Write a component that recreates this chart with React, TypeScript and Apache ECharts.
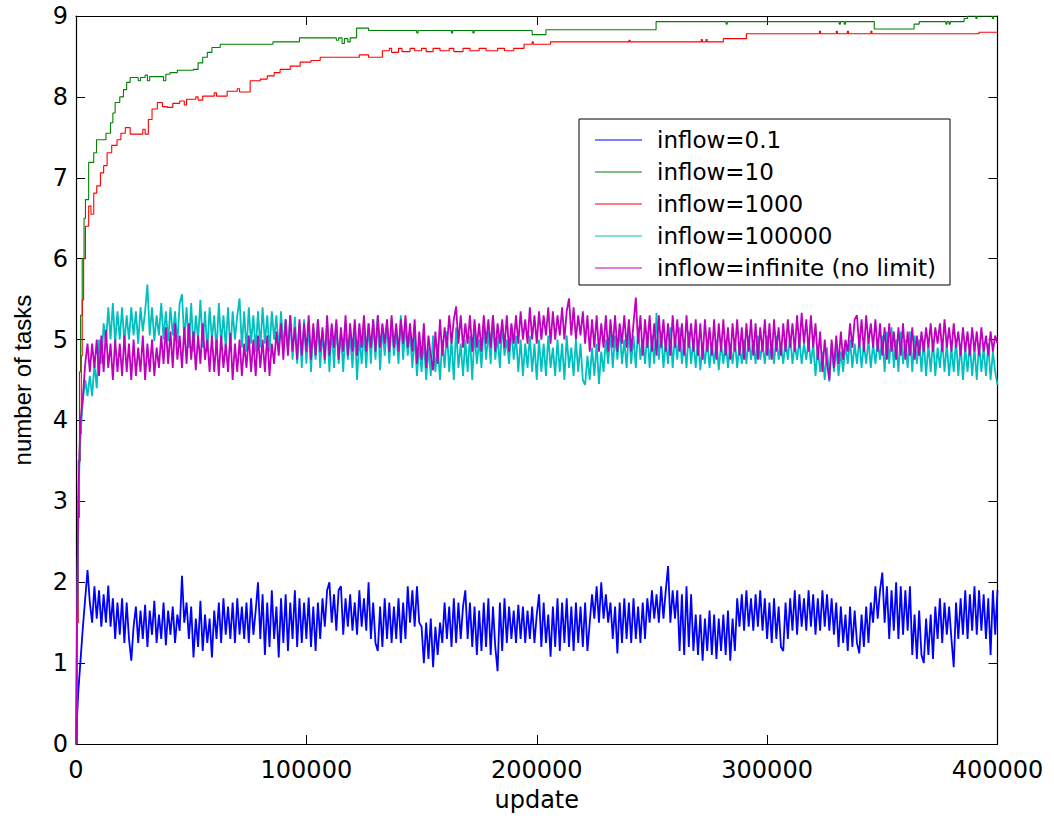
import React, { useEffect, useRef } from "react";
import * as echarts from "echarts";

// ---------- data ----------
const seriesNames = [
  "inflow=0.1",
  "inflow=10",
  "inflow=1000",
  "inflow=100000",
  "inflow=infinite (no limit)",
];
const seriesColors = ["#0000ff", "#008000", "#ff0000", "#00bfbf", "#bf00bf"];

const xTicks = [0, 100000, 200000, 300000, 400000];
const yTicks = [0, 1, 2, 3, 4, 5, 6, 7, 8, 9];

// sampling grid of the noisy runs (update number)
const earlyUpdates = [0, 500, 1000, 1500, 2000, 3000, 4000, 5000];
const laterUpdates = Array.from({ length: 395 }, (_, i) => 6000 + i * 1000);
const updates = [...earlyUpdates, ...laterUpdates];

const blueValues = [
  0, 0.35, 0.65, 0.85, 1.05, 1.45, 1.8, 2.15,
  1.75, 1.5, 1.95, 1.55,
  1.9, 1.45, 1.85, 1.5, 1.96, 1.45, 1.8, 1.3, 1.75, 1.35,
  1.8, 1.25, 1.75, 1.3, 1.03, 1.45, 1.7, 1.25, 1.65, 1.3,
  1.72, 1.2, 1.65, 1.35, 1.77, 1.25, 1.6, 1.3, 1.75, 1.22,
  1.65, 1.35, 1.7, 1.25, 1.6, 1.4, 2.08, 1.5, 1.75, 1.3,
  1.7, 1.07, 1.55, 1.2, 1.77, 1.15, 1.6, 1.25, 1.55, 1.07,
  1.65, 1.3, 1.75, 1.25, 1.8, 1.35, 1.7, 1.3, 1.75, 1.25,
  1.8, 1.35, 1.7, 1.3, 1.75, 1.25, 1.8, 1.35, 1.65, 2.0,
  1.3, 1.85, 1.1, 1.75, 1.2, 1.9, 1.3, 1.7, 1.07, 1.8,
  1.25, 1.85, 1.15, 1.75, 1.3, 1.9, 1.2, 1.8, 1.25, 1.75,
  1.3, 1.81, 1.2, 1.7, 1.15, 1.75, 1.3, 1.8, 1.45, 1.9,
  2.0, 1.5, 1.85, 1.4, 1.9, 1.95, 1.35, 1.8, 1.45, 1.85,
  1.4, 1.75, 1.35, 1.9, 1.45, 1.8, 1.4, 2.0, 1.3, 1.75,
  1.25, 1.15, 1.7, 1.2, 1.8, 1.3, 1.75, 1.25, 1.7, 1.3,
  1.8, 1.25, 1.75, 1.3, 1.95, 1.5, 1.9, 1.45, 1.95, 1.5,
  1.45, 1.0, 1.5, 1.05, 1.55, 0.95, 1.45, 1.1, 1.5, 1.25,
  1.75, 1.3, 1.7, 1.2, 1.8, 1.25, 1.75, 1.3, 1.7, 1.9,
  1.3, 1.75, 1.2, 1.7, 1.1, 1.65, 1.15, 1.75, 1.2, 1.8,
  1.1, 1.7, 1.2, 0.9, 1.75, 1.15, 1.8, 1.25, 1.7, 1.3,
  1.65, 1.25, 1.72, 1.3, 1.7, 1.25, 1.65, 1.3, 1.7, 1.25,
  1.6, 1.85, 1.2, 1.75, 1.25, 1.6, 1.08, 1.7, 1.2, 1.8,
  1.15, 1.75, 1.25, 1.8, 1.2, 1.7, 1.15, 1.75, 1.25, 1.7,
  1.2, 1.75, 1.15, 1.5, 1.85, 1.55, 1.95, 1.5, 2.0, 1.55,
  1.85, 1.5, 1.75, 1.3, 1.7, 1.12, 1.75, 1.25, 1.8, 1.3,
  1.75, 1.25, 1.8, 1.3, 1.7, 1.25, 1.75, 1.3, 1.8, 1.5,
  1.9, 1.55, 1.85, 1.5, 1.95, 1.55, 1.9, 2.2, 1.5, 1.9,
  1.55, 1.9, 1.15, 1.85, 1.1, 1.95, 1.2, 1.85, 1.15, 1.6,
  1.1, 1.6, 1.03, 1.55, 1.15, 1.65, 1.1, 1.6, 1.05, 1.55,
  1.15, 1.6, 1.1, 1.65, 1.03, 1.55, 1.15, 1.8, 1.45, 1.85,
  1.4, 1.9, 1.45, 1.8, 1.4, 1.85, 1.45, 1.9, 1.4, 1.8,
  1.3, 1.75, 1.25, 1.8, 1.3, 1.7, 1.2, 1.15, 1.75, 1.3,
  1.8, 1.4, 1.9, 1.35, 1.85, 1.45, 1.8, 1.4, 1.9, 1.45,
  1.85, 1.35, 1.8, 1.4, 1.9, 1.45, 1.85, 1.4, 1.8, 1.35,
  1.75, 1.2, 1.7, 1.25, 1.6, 1.15, 1.7, 1.2, 1.65, 1.25,
  1.12, 1.6, 1.2, 1.7, 1.25, 1.75, 1.5, 1.95, 1.55, 1.9,
  2.12, 1.5, 1.95, 1.3, 1.9, 1.4, 2.0, 1.3, 1.95, 1.35,
  1.9, 1.4, 1.95, 1.1, 1.6, 1.05, 1.65, 1.1, 1.0, 1.55,
  1.1, 1.6, 1.05, 1.7, 1.3, 1.8, 1.25, 1.75, 1.35, 1.7,
  1.3, 0.95, 1.75, 1.3, 1.8, 1.35, 1.9, 1.3, 1.85, 1.4,
  1.95, 1.35, 1.9, 1.4, 1.85, 1.3, 1.8, 1.1, 1.9, 1.35,
  1.9,
];

const cyanValues = [
  0, 1.5, 2.8, 3.5, 3.85, 4.25, 4.5, 4.3,
  4.55, 4.3, 4.7, 4.4,
  5.0, 4.7, 5.2, 4.95, 5.4, 5.0, 5.45, 4.95, 5.35, 5.0,
  5.4, 4.95, 5.3, 5.0, 5.4, 5.05, 5.35, 4.95, 5.4, 5.1,
  5.35, 5.68, 5.05, 5.4, 4.98, 5.3, 5.05, 5.45, 5.0, 5.35,
  4.98, 5.4, 5.05, 5.35, 4.95, 5.45, 5.56, 5.0, 5.4, 4.9,
  5.45, 4.85, 5.3, 5.0, 5.49, 4.9, 5.35, 4.85, 5.4, 5.0,
  5.3, 4.85, 5.45, 4.95, 5.3, 4.9, 5.4, 4.85, 5.35, 5.0,
  5.3, 5.51, 4.9, 5.35, 4.85, 5.4, 4.95, 5.3, 4.85, 5.35,
  4.9, 5.4, 4.95, 5.3, 4.85, 5.35, 5.0, 5.3, 4.85, 5.35,
  4.9, 5.25, 4.85, 5.3, 4.75, 5.28, 4.7, 5.2, 4.65, 5.25,
  4.7, 5.2, 4.6, 5.15, 4.75, 5.25, 4.65, 5.1, 4.7, 5.2,
  4.6, 5.15, 4.65, 5.2, 4.7, 5.1, 4.6, 5.2, 4.75, 5.05,
  4.65, 5.15, 4.5, 5.05, 4.7, 5.1, 4.65, 5.2, 4.7, 5.25,
  4.75, 5.3, 4.62, 5.15, 4.8, 5.2, 4.7, 5.25, 4.8, 5.1,
  4.7, 5.3, 4.75, 5.2, 4.8, 5.1, 4.65, 5.05, 4.55, 4.95,
  4.6, 5.0, 4.5, 4.9, 4.55, 5.05, 4.6, 4.95, 4.5, 5.0,
  4.65, 5.1, 4.6, 5.0, 4.5, 5.15, 4.65, 4.95, 4.55, 5.0,
  4.6, 5.05, 4.5, 5.1, 4.7, 5.0, 4.65, 5.2, 4.75, 5.1,
  4.7, 5.3, 4.75, 5.05, 4.65, 5.2, 4.8, 5.0, 4.7, 5.15,
  4.75, 5.05, 4.6, 5.0, 4.55, 4.95, 4.65, 5.05, 4.6, 4.95,
  4.5, 5.0, 4.6, 4.95, 4.55, 5.05, 4.65, 4.9, 4.55, 5.0,
  4.6, 4.95, 4.5, 5.05, 4.65, 4.9, 4.55, 5.0, 4.6, 4.95,
  4.5, 4.44, 4.8, 4.5, 4.9, 4.55, 4.95, 4.45, 4.85, 4.6,
  5.0, 4.7, 5.1, 4.65, 5.05, 4.75, 5.15, 4.7, 5.0, 4.65,
  5.1, 4.7, 5.05, 4.65, 5.15, 4.75, 5.0, 4.7, 5.1, 4.65,
  5.05, 4.7, 5.33, 4.75, 5.1, 4.65, 5.0, 4.7, 5.15, 4.65,
  5.05, 4.75, 5.15, 4.7, 5.0, 4.65, 5.1, 4.7, 5.0, 4.65,
  5.0, 4.62, 4.95, 4.7, 5.0, 4.65, 4.95, 4.7, 5.0, 4.62,
  4.95, 4.7, 5.0, 4.65, 4.95, 4.7, 5.0, 4.65, 4.95, 4.7,
  5.0, 4.7, 5.05, 4.75, 5.0, 4.7, 5.05, 4.75, 4.95, 4.7,
  5.05, 4.75, 5.0, 4.7, 5.05, 4.75, 4.95, 4.7, 5.0, 4.75,
  5.05, 4.7, 4.95, 4.75, 5.0, 4.7, 4.95, 4.75, 5.0, 4.7,
  4.95, 4.55, 4.9, 4.6, 4.85, 4.5, 4.9, 4.48, 4.95, 4.6,
  4.9, 4.55, 4.85, 4.6, 4.95, 4.7, 5.0, 4.65, 4.95, 4.7,
  5.0, 4.65, 4.95, 4.7, 5.0, 4.65, 4.95, 4.7, 5.0, 4.75,
  5.05, 4.6, 5.1, 4.7, 5.15, 4.65, 5.0, 4.6, 5.1, 4.7,
  5.0, 4.65, 5.1, 4.6, 5.05, 4.7, 5.0, 4.6, 5.0, 4.55,
  4.95, 4.6, 5.0, 4.55, 4.9, 4.65, 5.0, 4.6, 4.95, 4.55,
  4.9, 4.6, 5.0, 4.55, 4.95, 4.5, 4.9, 4.6, 4.95, 4.55,
  4.9, 4.5, 4.95, 4.6, 4.9, 4.55, 4.95, 4.5, 4.85, 4.6,
  4.44,
];

const magentaValues = [
  0, 1.8, 3.0, 3.6, 4.0, 4.3, 4.7, 4.95,
  4.6, 4.95, 4.65, 5.0,
  4.55, 5.05, 4.6, 5.12, 4.65, 4.95, 4.5, 5.0, 4.6, 4.95,
  4.55, 5.05, 4.6, 4.95, 4.5, 5.0, 4.55, 4.9, 4.6, 5.05,
  4.5, 4.95, 4.6, 5.0, 4.55, 4.9, 4.65, 5.05, 4.7, 5.15,
  4.7, 5.1, 4.65, 5.2, 4.75, 5.05, 4.65, 5.15, 4.7, 5.2,
  4.75, 5.1, 4.62, 5.05, 4.7, 5.2, 4.75, 5.0, 4.6, 5.05,
  4.6, 5.0, 4.55, 5.05, 4.65, 4.95, 4.6, 5.08, 4.5, 4.95,
  4.6, 5.0, 4.55, 4.95, 4.65, 5.05, 4.6, 5.0, 4.55, 5.05,
  4.65, 5.0, 4.6, 5.05, 4.55, 4.95, 4.7, 5.1, 4.8, 5.2,
  4.75, 5.25, 4.8, 5.3, 4.85, 5.15, 4.75, 5.25, 4.8, 5.2,
  4.85, 5.3, 4.75, 5.2, 4.8, 5.25, 4.85, 5.15, 4.75, 5.3,
  4.8, 5.2, 4.9, 5.25, 4.75, 5.15, 4.85, 5.3, 4.8, 5.2,
  4.85, 5.25, 4.8, 5.2, 4.9, 5.3, 4.85, 5.2, 4.9, 5.25,
  4.85, 5.3, 4.9, 5.2, 4.95, 5.25, 4.85, 5.3, 4.9, 5.2,
  4.85, 5.25, 4.95, 5.3, 4.9, 5.2, 4.85, 5.25, 4.7, 5.1,
  4.75, 5.2, 4.65, 5.05, 4.8, 4.62, 5.1, 4.7, 5.25, 4.8,
  5.15, 4.9, 5.3, 4.95, 5.25, 5.41, 4.95, 5.3, 4.9, 5.2,
  4.95, 5.3, 4.85, 5.25, 4.9, 5.2, 4.85, 5.3, 4.95, 5.25,
  4.9, 5.3, 4.85, 5.2, 4.95, 5.25, 4.9, 5.3, 4.85, 5.2,
  4.95, 5.3, 4.95, 5.35, 5.0, 5.25, 4.95, 5.4, 5.0, 5.3,
  4.95, 5.35, 5.0, 5.3, 5.05, 5.4, 4.95, 5.35, 5.0, 5.3,
  5.05, 5.4, 5.0, 5.35, 5.51, 5.05, 5.4, 5.0, 5.3, 5.05,
  5.35, 4.95, 5.3, 4.85, 5.25, 4.9, 5.3, 4.85, 5.2, 4.9,
  5.3, 4.85, 5.25, 4.9, 5.3, 4.85, 5.2, 4.95, 5.3, 4.9,
  5.25, 4.85, 5.2, 5.52, 4.95, 5.3, 4.8, 5.25, 4.9, 5.3,
  4.85, 5.2, 4.8, 5.3, 4.9, 5.25, 4.85, 5.2, 4.8, 5.3,
  4.9, 5.25, 4.85, 5.2, 4.8, 5.3, 4.9, 5.2, 4.85, 5.25,
  4.8, 5.2, 4.75, 5.25, 4.85, 5.15, 4.8, 5.25, 4.75, 5.2,
  4.85, 5.25, 4.8, 5.15, 4.75, 5.2, 4.85, 5.25, 4.8, 5.15,
  4.75, 5.2, 4.85, 5.25, 4.8, 5.2, 4.75, 5.15, 4.85, 5.25,
  4.8, 5.2, 4.75, 5.25, 4.85, 5.15, 4.8, 5.2, 4.85, 5.25,
  4.9, 5.2, 4.85, 5.3, 4.9, 5.33, 4.95, 5.25, 4.85, 5.3,
  4.9, 5.2, 4.75, 5.1, 4.6, 5.0, 4.7, 4.5, 5.0, 4.65,
  5.05, 4.7, 5.1, 4.75, 5.0, 4.85, 5.2, 4.9, 5.25, 5.3,
  4.9, 5.25, 4.85, 5.3, 4.95, 5.2, 4.9, 5.25, 4.85, 5.2,
  4.8, 5.15, 4.75, 5.2, 4.85, 5.1, 4.75, 5.15, 4.8, 5.2,
  4.75, 5.1, 4.8, 5.15, 4.75, 5.05, 4.8, 5.1, 4.85, 5.15,
  4.9, 5.2, 4.85, 5.15, 4.95, 5.2, 4.85, 5.25, 4.9, 5.15,
  4.85, 5.2, 4.9, 5.1, 4.8, 5.15, 4.85, 5.1, 4.8, 5.15,
  4.85, 5.1, 4.8, 5.15, 4.85, 5.05, 4.8, 5.1, 4.85, 5.05,
  4.95,
];

// step-like runs
const greenUpdates = [
  0, 500, 1000, 1500, 2000, 2700, 3500, 4100, 5500, 7700, 8900, 13000, 15000,
  16000, 17000, 19000, 20600, 22000, 23500, 27000, 28000, 30000, 31000, 32000,
  38000, 39000, 40800, 44000, 51000, 53000, 55000, 57000, 59000, 62600, 85500,
  97000, 113000, 114000, 115500, 116500, 118000, 119000, 121800, 127000,
  147900, 148500, 163000, 163500, 172300, 172800, 198000, 204000, 251800,
  282200, 282700, 331300, 331800, 333500, 334000, 346500, 363800, 366000,
  377600, 378100, 379000, 379500, 385500, 387000, 390600, 391100, 397800,
  398300, 400000,
];
const greenValues = [
  0, 2.0, 3.5, 4.6, 5.3, 6.0, 6.5, 6.73, 7.19, 7.31, 7.47, 7.55, 7.68,
  7.8, 7.93, 8.0, 8.09, 8.18, 8.24, 8.2, 8.24, 8.27, 8.2, 8.25,
  8.2, 8.28, 8.3, 8.33, 8.34, 8.42, 8.49, 8.55, 8.61, 8.65, 8.68,
  8.73, 8.7, 8.73, 8.66, 8.72, 8.68, 8.73, 8.85, 8.82,
  8.79, 8.82, 8.79, 8.82, 8.79, 8.82, 8.77, 8.83, 8.93,
  8.9, 8.93, 8.9, 8.93, 8.9, 8.93, 8.84, 8.9, 8.93,
  8.9, 8.93, 8.9, 8.93, 8.97, 9.0, 8.97, 9.0, 8.97,
  9.0, 9.0,
];

const redUpdates = [
  0, 500, 1000, 1500, 1900, 2300, 2700, 3300, 4100, 5500, 6500, 7700, 9000,
  10600, 12000, 13500, 15500, 17800, 19500, 21400, 23500, 29000, 30000, 31400,
  33000, 35300, 37500, 39600, 42000, 45000, 47000, 48000, 52000, 53000, 55000,
  60000, 61000, 65600, 70000, 71000, 75600, 80000, 83000, 86000, 88600, 93000,
  97300, 102000, 106000, 123000, 127000, 133000, 136000, 137000, 140000,
  141500, 145000, 147000, 150000, 152000, 155000, 158000, 162000, 164000,
  168000, 171000, 175000, 178000, 183000, 186000, 190000, 194500, 198000,
  198500, 206000, 240000, 240500, 271400, 271900, 273500, 274000, 281000,
  291000, 322700, 323200, 330000, 330500, 334800, 335300, 345000, 345500,
  392000, 400000,
];
const redValues = [
  0, 1.5, 2.8, 3.5, 3.84, 4.8, 5.49, 6.0, 6.4, 6.65, 6.55, 6.81, 6.9,
  7.06, 7.15, 7.31, 7.4, 7.47, 7.55, 7.62, 7.54, 7.6, 7.54, 7.72,
  7.85, 7.93, 7.88, 7.87, 7.92, 7.95, 7.9, 7.97, 8.0, 7.96, 8.01,
  8.05, 8.01, 8.07, 8.1, 8.06, 8.2, 8.22, 8.26, 8.3, 8.34, 8.38,
  8.43, 8.45, 8.49, 8.52, 8.49, 8.57, 8.6, 8.55, 8.6,
  8.56, 8.6, 8.57, 8.6, 8.56, 8.6, 8.57, 8.6, 8.56,
  8.6, 8.57, 8.6, 8.57, 8.6, 8.57, 8.6, 8.65, 8.68,
  8.65, 8.68, 8.7, 8.68, 8.71, 8.68, 8.71, 8.68, 8.72,
  8.78, 8.81, 8.78, 8.81, 8.78, 8.81, 8.78, 8.81, 8.78,
  8.8, 8.8,
];

// ---------- chart ----------
const zip = (xs: number[], ys: number[]) => xs.map((x, i) => [x, ys[i]]);

export default function App() {
  const ref = useRef<HTMLDivElement>(null);

  useEffect(() => {
    if (!ref.current) return;
    const chart = echarts.init(ref.current, undefined, { renderer: "svg" });

    const axisLine = { show: true, onZero: false, lineStyle: { color: "#000", width: 1.2 } };
    const axisTick = { show: true, inside: true, length: 9, lineStyle: { color: "#000", width: 1 } };
    const labelFont = { fontFamily: "DejaVu Sans", fontSize: 24, color: "#000" };

    const xBase = { type: "value", min: xTicks[0], max: xTicks[xTicks.length - 1], interval: xTicks[1] - xTicks[0], splitLine: { show: false } };
    const yBase = { type: "value", min: yTicks[0], max: yTicks[yTicks.length - 1], interval: yTicks[1] - yTicks[0], splitLine: { show: false } };

    const lineSeries = (idx: number, data: number[][], width: number, step?: string) => ({
      name: seriesNames[idx],
      type: "line",
      data,
      xAxisIndex: 0,
      yAxisIndex: 0,
      symbol: "none",
      showSymbol: false,
      step: step || false,
      lineStyle: { color: seriesColors[idx], width },
      itemStyle: { color: seriesColors[idx] },
      emphasis: { disabled: true },
    });

    chart.setOption({
      animation: false,
      backgroundColor: "#fff",
      grid: { left: 76, right: 56.5, top: 16, bottom: 74, containLabel: false },
      legend: {
        orient: "vertical",
        left: 579,
        top: 119,
        padding: [9, 14, 5, 16],
        itemGap: 8,
        itemWidth: 47,
        itemHeight: 1.2,
        icon: "rect",
        borderColor: "#000",
        borderWidth: 1,
        borderRadius: 0,
        backgroundColor: "#fff",
        selectedMode: false,
        textStyle: { fontFamily: "DejaVu Sans", fontSize: 23, color: "#000", lineHeight: 24, padding: [0, 0, 0, 10] },
        data: seriesNames,
      },
      xAxis: [
        {
          ...xBase,
          position: "bottom",
          axisLine,
          axisTick,
          axisLabel: { ...labelFont, margin: 14, formatter: (v: number) => String(v) },
          name: "update",
          nameLocation: "middle",
          nameGap: 44,
          nameTextStyle: { fontFamily: "DejaVu Sans", fontSize: 24, color: "#000" },
        },
        {
          ...xBase,
          position: "top",
          axisLine,
          axisTick,
          axisLabel: { show: false },
        },
      ],
      yAxis: [
        {
          ...yBase,
          position: "left",
          axisLine,
          axisTick,
          axisLabel: { ...labelFont, margin: 8, formatter: (v: number) => String(v) },
          name: "number of tasks",
          nameLocation: "middle",
          nameGap: 42,
          nameRotate: 90,
          nameTextStyle: { fontFamily: "Liberation Sans", fontSize: 24, color: "#000" },
        },
        {
          ...yBase,
          position: "right",
          axisLine,
          axisTick,
          axisLabel: { show: false },
        },
      ],
      series: [
        lineSeries(0, zip(updates, blueValues), 1.8),
        lineSeries(1, zip(greenUpdates, greenValues), 1.1, "end"),
        lineSeries(2, zip(redUpdates, redValues), 1.1, "end"),
        lineSeries(3, zip(updates, cyanValues), 1.8),
        lineSeries(4, zip(updates, magentaValues), 1.8),
      ],
    });

    return () => chart.dispose();
  }, []);

  return (
    <div
      ref={ref}
      style={{ position: "fixed", left: 0, top: 0, width: 1054, height: 818, background: "#fff" }}
    />
  );
}
